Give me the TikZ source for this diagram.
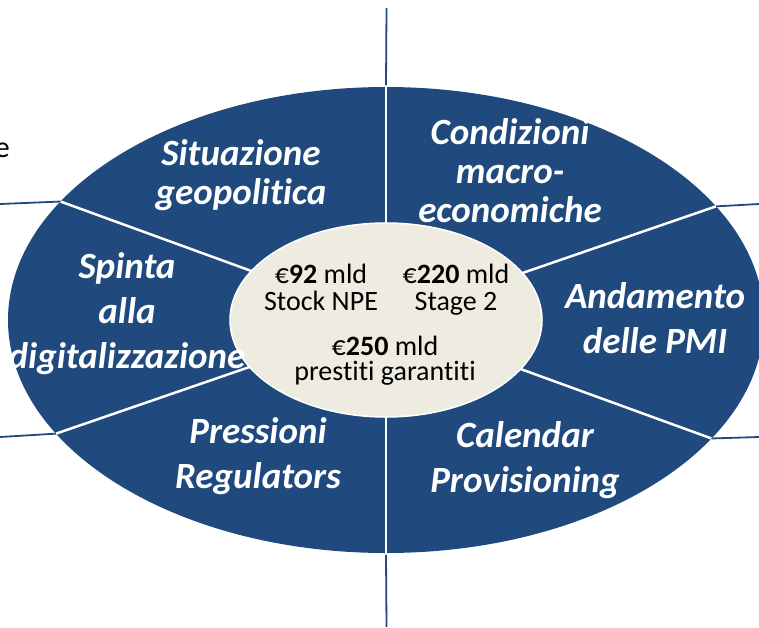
\documentclass[tikz,border=0pt]{standalone}
\usepackage{fontspec}
\setmainfont{Carlito}[Ligatures=NoCommon]
\usetikzlibrary{shapes.geometric}
\definecolor{navy}{HTML}{204A7E}
\definecolor{beige}{HTML}{EEECE1}
\begin{document}
\begin{tikzpicture}[x=1pt,y=-1pt,
  seg/.style={draw=white,line width=2.5pt},
  gridline/.style={draw=navy,line width=1.8pt},
  ring/.style={ellipse,inner sep=0pt,outer sep=0pt},
  lbl/.style={text=white,font=\bfseries\itshape\fontsize{37}{45}\selectfont,align=center,anchor=base,inner sep=0pt},
  lbltop/.style={lbl,font=\bfseries\itshape\fontsize{37}{39}\selectfont},
  num/.style={text=black,font=\fontsize{28}{27}\selectfont,align=center,anchor=base,inner sep=0pt},
  numlow/.style={num,font=\fontsize{28}{25}\selectfont}]
\useasboundingbox (0,0) rectangle (759,627);
\clip (0,0) rectangle (759,627);
\node[ring,fill=navy,minimum width=756pt,minimum height=466pt] (outer) at (386,320) {};
\node[ring,fill=beige,draw=white,line width=1.5pt,minimum width=312pt,minimum height=194pt] (inner) at (386,320) {};
\foreach \a in {90,270,160.5,199.5,19.5,340.5}
  \draw[seg] (outer.\a) -- (inner.\a);
\coordinate (t) at (386.5,8);
\coordinate (b) at (386.5,627);
\coordinate (l1) at (0,204);
\coordinate (l2) at (0,437);
\coordinate (r1) at (759,204);
\coordinate (r2) at (759,437);
\draw[gridline] (t) -- ([yshift=2pt]outer.north);
\draw[gridline] ([yshift=-2pt]outer.south) -- (b);
\draw[gridline] (l1) -- (outer.160.5);
\draw[gridline] (l2) -- (outer.199.5);
\draw[gridline] (outer.19.5) -- (r1);
\draw[gridline] (outer.340.5) -- (r2);
\node[lbltop] (sit) at (241,204) {Situazione\\geopolitica};
\node[lbltop] (cond) at (510,222) {Condizioni\\macro-\\economiche};
\node[lbl] (spin) at (127,368) {Spinta\\alla\\digitalizzazione};
\node[lbl] (andam) at (655,353) {Andamento\\delle PMI};
\node[lbl] (pres) at (258,488) {Pressioni\\Regulators};
\node[lbl] (cal) at (525,492) {Calendar\\Provisioning};
\node[num] (n92) at (321,310) {€\textbf{92} mld\\Stock NPE};
\node[num] (n220) at (456,310) {€\textbf{220} mld\\Stage 2};
\node[numlow] (n250) at (385,380) {€\textbf{250} mld\\prestiti garantiti};
\node[anchor=base east,inner sep=0pt,font=\fontsize{30}{30}\selectfont] (e) at (10,157) {e};
\end{tikzpicture}
\end{document}
